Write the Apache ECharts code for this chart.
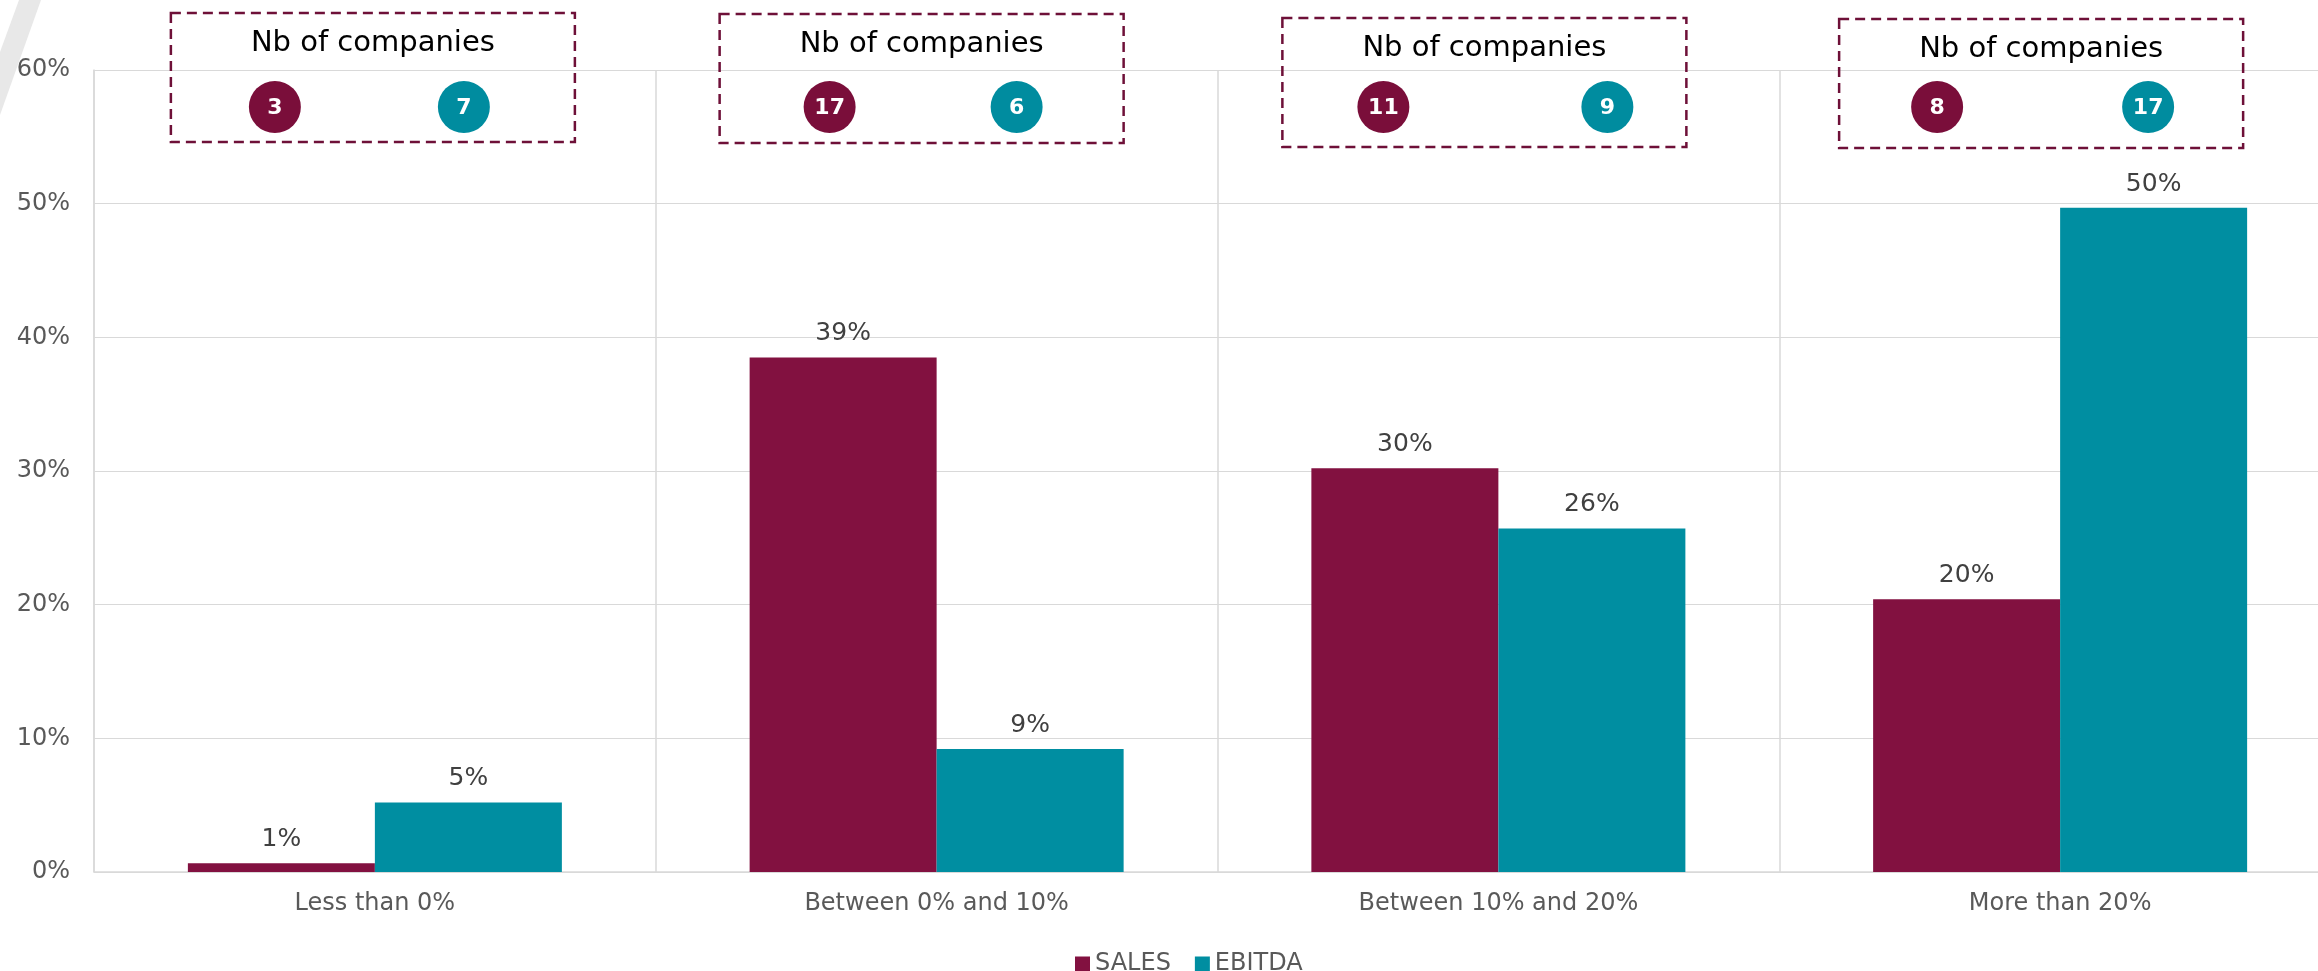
<!DOCTYPE html>
<html>
<head>
<meta charset="utf-8">
<script src="https://cdn.jsdelivr.net/npm/echarts@6/dist/echarts.min.js"></script>
<style>
  html, body { margin: 0; padding: 0; background: #ffffff; }
  #chart { width: 2318px; height: 971px; }
</style>
</head>
<body>
<div id="chart"></div>
<script>
// Growth buckets and the share of companies falling in each one (in %)
const categories = ['Less than 0%', 'Between 0% and 10%', 'Between 10% and 20%', 'More than 20%'];
const salesShare = [0.65, 38.5, 30.2, 20.4];
const ebitdaShare = [5.2, 9.2, 25.7, 49.7];

// Number of companies behind each bar
const salesCompanies = [3, 17, 11, 8];
const ebitdaCompanies = [7, 6, 9, 17];

// Y axis ticks
const yMin = 0, yMax = 60, yStep = 10;

// Placement of the "Nb of companies" boxes relative to each category centre
const boxLayout = [
  { shift: -2,  top: 13, salesDx: -98,  ebitdaDx: 91 },
  { shift: -15, top: 14, salesDx: -92,  ebitdaDx: 95 },
  { shift: -14, top: 18, salesDx: -101, ebitdaDx: 123 },
  { shift: -19, top: 19, salesDx: -104, ebitdaDx: 107 }
];

const SALES_COLOR = '#821140';
const EBITDA_COLOR = '#008EA1';
const SALES_DOT = '#7A0E3A';
const EBITDA_DOT = '#008C9F';
const FONT = 'DejaVu Sans, Verdana, sans-serif';

const chart = echarts.init(document.getElementById('chart'), null, { renderer: 'canvas' });

function renderBox(params, api) {
  const i = params.dataIndex;
  const lay = boxLayout[i];
  const cx = api.coord([api.value(0), 0])[0] + lay.shift;
  const w = 404, h = 129;
  const top = lay.top;
  const dotY = 107;
  const r = 26;
  const dot = (x, color, n) => [
    { type: 'circle', shape: { cx: x, cy: dotY, r: r }, style: { fill: color } },
    { type: 'text', style: { text: String(n), x: x, y: dotY + 1, fill: '#ffffff',
      font: 'bold 22px ' + FONT, align: 'center', verticalAlign: 'middle' } }
  ];
  return {
    type: 'group',
    children: [
      { type: 'rect', shape: { x: cx - w / 2, y: top, width: w, height: h },
        style: { fill: 'none', stroke: '#6E1038', lineWidth: 2.5, lineDash: [10, 6] } },
      { type: 'text', style: { text: 'Nb of companies', x: cx, y: top + 30, fill: '#000000',
        font: '29px ' + FONT, align: 'center', verticalAlign: 'middle' } }
    ].concat(dot(cx + lay.salesDx, SALES_DOT, api.value(1)))
     .concat(dot(cx + lay.ebitdaDx, EBITDA_DOT, api.value(2)))
  };
}

const valueLabel = {
  show: true,
  position: 'top',
  distance: 11,
  color: '#404040',
  fontFamily: FONT,
  fontSize: 25,
  formatter: p => Math.round(p.value) + '%'
};

chart.setOption({
  animation: false,
  backgroundColor: '#ffffff',
  textStyle: { fontFamily: FONT },
  graphic: [
    { type: 'polygon', shape: { points: [[19, 0], [41, 0], [0, 115], [0, 52]] },
      style: { fill: '#E8E8E8' }, z: -1 }
  ],
  // the plot area runs a little past the right edge of the canvas
  grid: { left: 94, top: 70, width: 2247, height: 802, containLabel: false,
    outerBoundsMode: 'none' },
  legend: {
    data: ['SALES', 'EBITDA'],
    left: 1070,
    top: 947,
    icon: 'rect',
    itemWidth: 15,
    itemHeight: 15,
    itemGap: 24,
    textStyle: { color: '#595959', fontSize: 24, fontFamily: FONT }
  },
  xAxis: {
    type: 'category',
    data: categories,
    axisTick: { show: false },
    axisLine: { show: true, lineStyle: { color: '#D9D9D9', width: 1.5 } },
    splitLine: { show: true, lineStyle: { color: '#D9D9D9', width: 1.5 } },
    axisLabel: { color: '#595959', fontSize: 24, fontFamily: FONT, margin: 20 }
  },
  yAxis: {
    type: 'value',
    min: yMin,
    max: yMax,
    interval: yStep,
    axisLine: { show: true, lineStyle: { color: '#D9D9D9', width: 1.5 } },
    axisTick: { show: false },
    splitLine: { show: true, lineStyle: { color: '#D9D9D9', width: 1.2 } },
    axisLabel: { color: '#595959', fontSize: 24, fontFamily: FONT, margin: 24,
      formatter: v => v + '%' }
  },
  series: [
    { name: 'SALES', type: 'bar', data: salesShare, barWidth: 187, barGap: '0%',
      itemStyle: { color: SALES_COLOR }, label: valueLabel },
    { name: 'EBITDA', type: 'bar', data: ebitdaShare, barWidth: 187, barGap: '0%',
      itemStyle: { color: EBITDA_COLOR }, label: valueLabel },
    { name: 'companies', type: 'custom', clip: false, silent: true,
      data: categories.map((c, i) => [i, salesCompanies[i], ebitdaCompanies[i]]),
      encode: { x: 0, y: -1 },
      renderItem: renderBox, z: 5 }
  ]
});
</script>
</body>
</html>
